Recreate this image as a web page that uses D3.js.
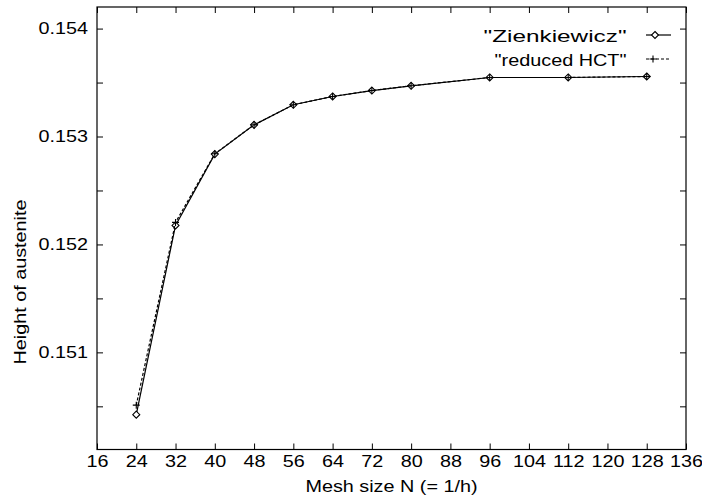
<!DOCTYPE html>
<html>
<head>
<meta charset="utf-8">
<script src="https://cdn.jsdelivr.net/npm/d3@7"></script>
<style>
  body { margin: 0; background: #fff; }
  text { font-family: "Liberation Sans", Arial, sans-serif; font-size: 16.5px; fill: #000; }
</style>
</head>
<body>
<div class="canvas"></div>
<script>
// data
const meshSizes = [24, 32, 40, 48, 56, 64, 72, 80, 96, 112, 128];
const zienkiewicz = [0.150423, 0.152176, 0.152837, 0.153108, 0.153294, 0.153371, 0.153426, 0.15347, 0.153547, 0.153547, 0.153556];
const reducedHCT = [0.150511, 0.152204, 0.15284, 0.153108, 0.153294, 0.153371, 0.153426, 0.15347, 0.153547, 0.153547, 0.153556];
const xTicks = d3.range(16, 137, 8);
const yTicks = [0.1505, 0.151, 0.1515, 0.152, 0.1525, 0.153, 0.1535, 0.154];
const yLabelled = [0.151, 0.152, 0.153, 0.154];

const dims = { width: 702, height: 500 };
const plot = { left: 97, right: 686, top: 7, bottom: 449.5 };
const stretch = 1.2; // text in the picture is wider than the font

const svg = d3
  .select(".canvas")
  .append("svg")
  .attr("width", dims.width)
  .attr("height", dims.height);

const x = d3.scaleLinear().domain([16, 136]).range([plot.left, plot.right]);
const y = d3.scaleLinear().domain([0.1501, 0.1542]).range([plot.bottom, plot.top]);

// only whole thousandths get a label, half steps are bare ticks
const yFormat = (d) =>
  yLabelled.some((v) => Math.abs(v - d) < 1e-9) ? d3.format(".3f")(d) : "";

// axes with inward ticks
const xAxis = d3.axisBottom(x).tickValues(xTicks).tickFormat(d3.format("d")).tickSize(-6).tickPadding(6);
const yAxis = d3.axisLeft(y).tickValues(yTicks).tickSize(-6).tickPadding(0).tickFormat(yFormat);

const gx = svg.append("g").attr("transform", `translate(0,${plot.bottom})`).call(xAxis);
const gy = svg.append("g").attr("transform", `translate(${plot.left},0)`).call(yAxis);
svg.append("g").attr("transform", `translate(0,${plot.top})`).call(d3.axisTop(x).tickValues(xTicks).tickSize(-6).tickFormat(""));
svg.append("g").attr("transform", `translate(${plot.right},0)`).call(d3.axisRight(y).tickValues(yTicks).tickSize(-6).tickFormat(""));

svg.selectAll(".domain").remove();
svg.selectAll(".tick line").attr("stroke", "#000");
svg.selectAll(".tick text").attr("font-size", null).attr("font-family", null);
gx.selectAll(".tick text").attr("transform", `scale(${stretch},1)`);
gy.selectAll(".tick text").attr("x", -9 / stretch).attr("transform", `scale(${stretch},1)`);

// frame
svg
  .append("rect")
  .attr("x", plot.left)
  .attr("y", plot.top)
  .attr("width", plot.right - plot.left)
  .attr("height", plot.bottom - plot.top)
  .attr("fill", "none")
  .attr("stroke", "#000")
  .attr("stroke-width", 1.2);

// axis titles
svg
  .append("text")
  .attr("text-anchor", "middle")
  .attr("transform", `translate(${(plot.left + plot.right) / 2},492) scale(${stretch},1)`)
  .text("Mesh size N (= 1/h)");

svg
  .append("text")
  .attr("text-anchor", "middle")
  .attr("transform", `translate(25.5,282) rotate(-90) scale(${stretch},1)`)
  .text("Height of austenite");

const line = d3
  .line()
  .x((d) => x(d[0]))
  .y((d) => y(d[1]));

const series = [
  { name: "\"Zienkiewicz\"", values: zienkiewicz, dash: null, marker: "diamond", textWidth: 143 },
  { name: "\"reduced HCT\"", values: reducedHCT, dash: "3,2", marker: "plus", textWidth: 132 },
];

const diamond = "M0,-3.5L3.5,0L0,3.5L-3.5,0Z";
const plus = "M-3.5,0H3.5M0,-3.5V3.5";

series.forEach((s, i) => {
  const pts = meshSizes.map((n, j) => [n, s.values[j]]);

  svg
    .append("path")
    .attr("d", line(pts))
    .attr("fill", "none")
    .attr("stroke", "#000")
    .attr("stroke-width", 1.2)
    .attr("stroke-dasharray", s.dash);

  svg
    .selectAll(null)
    .data(pts)
    .enter()
    .append("path")
    .attr("transform", (d) => `translate(${x(d[0])},${y(d[1])})`)
    .attr("d", s.marker === "diamond" ? diamond : plus)
    .attr("fill", s.marker === "diamond" ? "#fff" : "none")
    .attr("stroke", "#000")
    .attr("stroke-width", 1.1);

  // legend entry
  const ly = 35 + i * 24;
  svg
    .append("text")
    .attr("text-anchor", "end")
    .attr("transform", `translate(626.5,${ly + 6.5}) scale(${stretch},1)`)
    .attr("textLength", s.textWidth / stretch)
    .attr("lengthAdjust", "spacingAndGlyphs")
    .text(s.name);

  svg
    .append("line")
    .attr("x1", 646)
    .attr("x2", 671)
    .attr("y1", ly)
    .attr("y2", ly)
    .attr("stroke", "#000")
    .attr("stroke-width", 1.2)
    .attr("stroke-dasharray", s.dash);

  svg
    .append("path")
    .attr("transform", `translate(${i === 0 ? 655 : 653},${ly})`)
    .attr("d", s.marker === "diamond" ? diamond : plus)
    .attr("fill", s.marker === "diamond" ? "#fff" : "none")
    .attr("stroke", "#000")
    .attr("stroke-width", 1.1);
});
</script>
</body>
</html>
